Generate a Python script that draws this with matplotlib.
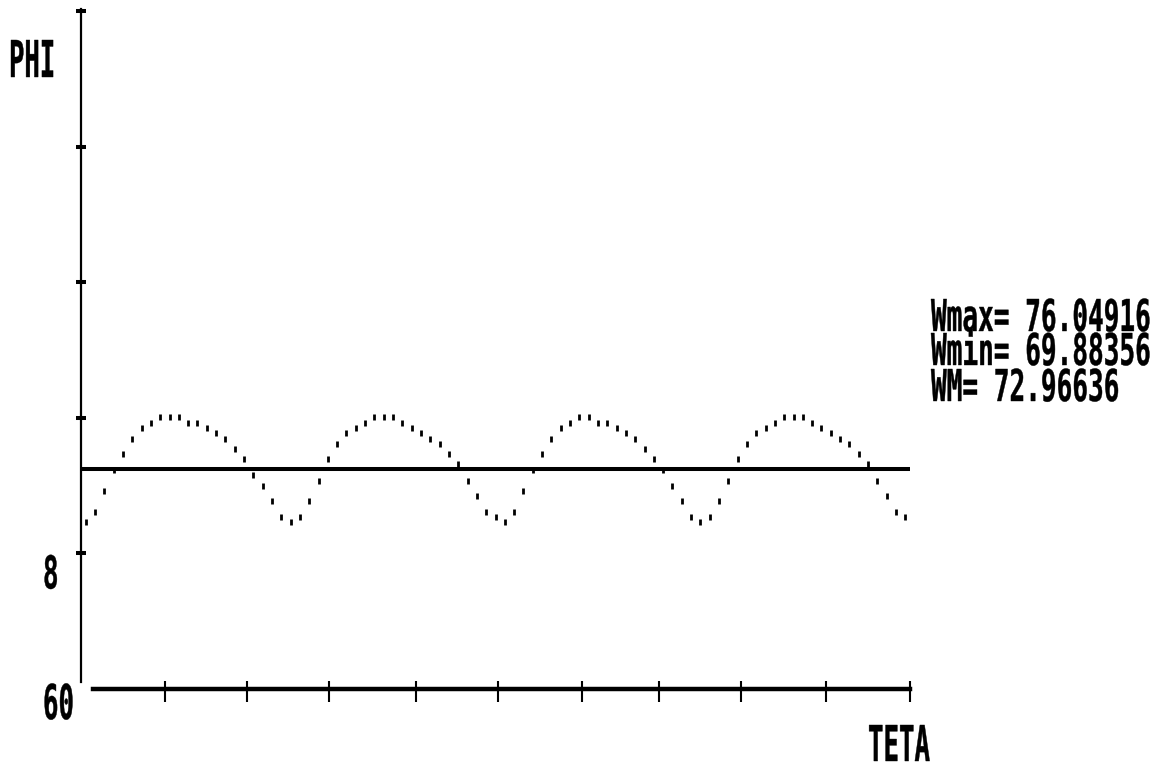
import numpy as np
import matplotlib
matplotlib.use('Agg')
import matplotlib.pyplot as plt
from matplotlib.patheffects import AbstractPathEffect
from matplotlib.transforms import Affine2D, blended_transform_factory

# ---------------- data ----------------
TETA = np.linspace(0, 360, 89)
W = [69.88, 70.46, 71.68, 72.91, 73.84, 74.77, 75.41, 75.70, 76.05, 76.05, 76.05,
     75.70, 75.70, 75.41, 75.12, 74.77, 74.13, 73.55, 72.62, 71.98, 71.10, 70.17,
     69.88, 70.17, 71.10, 72.27, 73.55, 74.48, 75.12, 75.41, 75.70, 76.05, 76.05,
     76.05, 75.70, 75.41, 75.12, 74.77, 74.48, 73.84, 73.26, 72.27, 71.39, 70.46, 70.17,
     69.88, 70.46, 71.68, 72.91, 73.84, 74.77, 75.41, 75.70, 76.05, 76.05, 75.70,
     75.70, 75.41, 75.12, 74.77, 74.13, 73.55, 72.91, 71.98, 71.10, 70.17,
     69.88, 70.17, 71.10, 72.27, 73.55, 74.48, 75.12, 75.41, 75.70, 76.05, 76.05,
     76.05, 75.70, 75.41, 75.12, 74.77, 74.48, 73.84, 73.26, 72.27, 71.39, 70.46, 70.17]
assert len(W) == len(TETA)
WMAX = 76.04916
WMIN = 69.88356
WM = 72.96636
X_TICKS = [35, 71, 107, 145, 181, 218, 252, 288, 325, 362]
Y_TICKS = [68, 76, 84, 92, 100]
Y_LABELS = {68: "8", 60: "60"}

# ---------------- figure ----------------
WPX, HPX = 1164, 767
fig = plt.figure(figsize=(WPX / 100, HPX / 100), dpi=100)
fig.patch.set_facecolor('white')

X0PX, PXDEG = 85.7, 819.6 / 360.0
Y0PX, PXUNIT = 689.0, 16.95
XMAX = 366
YMIN, YMAX = 60, 100
ax = fig.add_axes([X0PX / WPX, (HPX - Y0PX) / HPX,
                   XMAX * PXDEG / WPX, (YMAX - YMIN) * PXUNIT / HPX])
ax.set_xlim(0, XMAX)
ax.set_ylim(YMIN, YMAX)
ax.patch.set_alpha(0)

for s in ('top', 'right'):
    ax.spines[s].set_visible(False)
ax.spines['left'].set_position(('outward', 3.7))
ax.spines['left'].set_bounds(60.4, 100.1)
ax.spines['left'].set_linewidth(1.6)
ax.spines['bottom'].set_bounds(3.3, 362)
ax.spines['bottom'].set_linewidth(3.2)

ax.set_yticks(Y_TICKS)
ax.set_yticklabels([])
ax.tick_params(axis='y', direction='inout', length=7.5, width=2.9, color='black')

ax.xaxis.remove_overlapping_locs = False
ax.set_xticks(X_TICKS)
ax.set_xticks(X_TICKS, minor=True)
ax.set_xticklabels([])
ax.set_xticklabels([], minor=True)
ax.tick_params(axis='x', which='major', direction='out', length=9.5, width=1.5)
ax.tick_params(axis='x', which='minor', direction='in', length=5.8, width=1.5)

# mean line
ax.hlines(WM, -1.7, 362, colors='black', linewidth=2.9, clip_on=False)
# dotted curve
ax.plot(TETA, W, ls='none', marker='|', ms=3.8, mew=2.0, color='black', clip_on=False)


class Stretch(AbstractPathEffect):
    """Stretch glyphs vertically about the baseline (tall narrow screen font)."""

    def __init__(self, sy, lw=0.3):
        super().__init__()
        self.sy = sy
        self.lw = lw

    def draw_path(self, renderer, gc, tpath, affine, rgbFace=None):
        gc0 = renderer.new_gc()
        gc0.copy_properties(gc)
        gc0.set_linewidth(self.lw)
        renderer.draw_path(gc0, tpath, Affine2D().scale(1.0, self.sy) + affine, rgbFace)
        gc0.restore()


def style(h, adv):
    em = adv / 0.602
    return dict(fontsize=em * 0.72, family='DejaVu Sans Mono', weight='bold',
                ha='left', va='baseline',
                path_effects=[Stretch(h / (0.729 * em))])


def ftext(x, y, s, h, adv):
    fig.text(x / WPX, 1 - y / HPX, s, **style(h, adv))


ftext(9, 77, "PHI", 37, 15.4)
ftext(868, 761, "TETA", 36, 15.5)
ftext(931, 331, f"Wmax= {WMAX:.5f}", 32, 15.7)
ftext(931, 365, f"Wmin= {WMIN:.5f}", 32, 15.7)
ftext(931, 401, f"WM= {WM:.5f}", 32, 15.7)

# y tick labels placed below-left of their ticks
blend = blended_transform_factory(fig.transFigure, ax.transData)
for val, dy, h in [(68, 35, 33), (60, 30, 35)]:
    tr = blend + Affine2D().translate(0, -dy)
    ax.text(43 / WPX, val, Y_LABELS[val], transform=tr, clip_on=False, **style(h, 15.5))

fig.savefig('out.png', dpi=100, facecolor='white')
